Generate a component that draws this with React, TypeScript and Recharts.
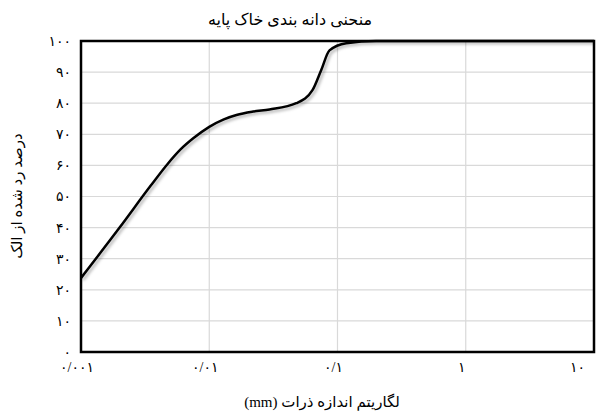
import React from 'react';
import {
  LineChart,
  Line,
  XAxis,
  YAxis,
  CartesianGrid,
  ReferenceArea
} from 'recharts';

// particle size (mm) and percent passing
const sizes = [0.001, 0.002, 0.0035, 0.0047, 0.006, 0.0075, 0.01, 0.013, 0.0163, 0.022, 0.0295, 0.0477, 0.0638, 0.0747, 0.0866, 0.117, 0.2, 10];
const passing = [23.8, 40, 53.5, 60.3, 65.2, 68.7, 72.4, 74.8, 76.2, 77.3, 78, 80, 84.2, 90.7, 97, 99.3, 100, 100];

const xTicks = [0.001, 0.01, 0.1, 1, 10];
const yTicks = [0, 10, 20, 30, 40, 50, 60, 70, 80, 90, 100];

const chartTitle = 'منحنی دانه بندی خاک پایه';
const xTitle = 'لگاریتم اندازه ذرات (mm)';
const yTitle = 'درصد رد شده از الک';

const chartData = sizes.map((d, i) => ({ size: d, pass: passing[i] }));

const faDigits = '۰۱۲۳۴۵۶۷۸۹';
const toFa = (v: number) =>
  String(v)
    .replace(/\d/g, (c) => faDigits[Number(c)])
    .replace('.', '/');

const FONT = '"Liberation Serif", "DejaVu Sans", serif';

const XTick = (props: any) => {
  const { x, y, payload, index } = props;
  const last = index === xTicks.length - 1;
  return (
    <text
      x={last ? x - 9 : x - 4}
      y={y + 12}
      textAnchor={last ? 'end' : 'middle'}
      fontSize={14}
      fontFamily={FONT}
      fill="#000"
    >
      {toFa(payload.value)}
    </text>
  );
};

export default function App() {
  return (
    <div style={{ position: 'absolute', left: 0, top: 0, width: 596, height: 414, background: '#fff' }}>
      <style>{`.grading-curve .recharts-line-curve { filter: drop-shadow(2px 2px 1.5px rgba(0,0,0,0.3)); }`}</style>
      <LineChart
        width={596}
        height={414}
        data={chartData}
        margin={{ top: 41, right: 2, bottom: 32, left: 21 }}
      >
        <text x={290} y={25} textAnchor="middle" direction="rtl" fontSize={16} fontFamily={FONT} fill="#000">
          {chartTitle}
        </text>
        <text x={322} y={407} textAnchor="middle" direction="rtl" fontSize={15} fontFamily={FONT} fill="#000">
          {xTitle}
        </text>
        <text
          x={22}
          y={196}
          textAnchor="middle"
          direction="rtl"
          fontSize={15}
          fontFamily={FONT}
          fill="#000"
          transform="rotate(-90 22 196)"
        >
          {yTitle}
        </text>
        <CartesianGrid stroke="#d9d9d9" strokeWidth={1.2} />
        <XAxis
          dataKey="size"
          type="number"
          scale="log"
          domain={[0.001, 10]}
          ticks={xTicks}
          allowDataOverflow
          height={30}
          axisLine={false}
          tickLine={false}
          tick={<XTick />}
          interval={0}
        />
        <YAxis
          type="number"
          domain={[0, 100]}
          ticks={yTicks}
          width={60}
          axisLine={false}
          tickLine={false}
          interval={0}
          tickFormatter={(v: number) => toFa(v)}
          tick={{ fontSize: 14, fill: '#000', fontFamily: FONT, dx: -2 }}
        />
        <Line
          className="grading-curve"
          type="monotone"
          dataKey="pass"
          stroke="#000"
          strokeWidth={2.5}
          dot={false}
          isAnimationActive={false}
        />
        <ReferenceArea
          x1={0.001}
          x2={10}
          y1={0}
          y2={100}
          fill="none"
          stroke="#000"
          strokeWidth={2.5}
          ifOverflow="visible"
        />
      </LineChart>
    </div>
  );
}
